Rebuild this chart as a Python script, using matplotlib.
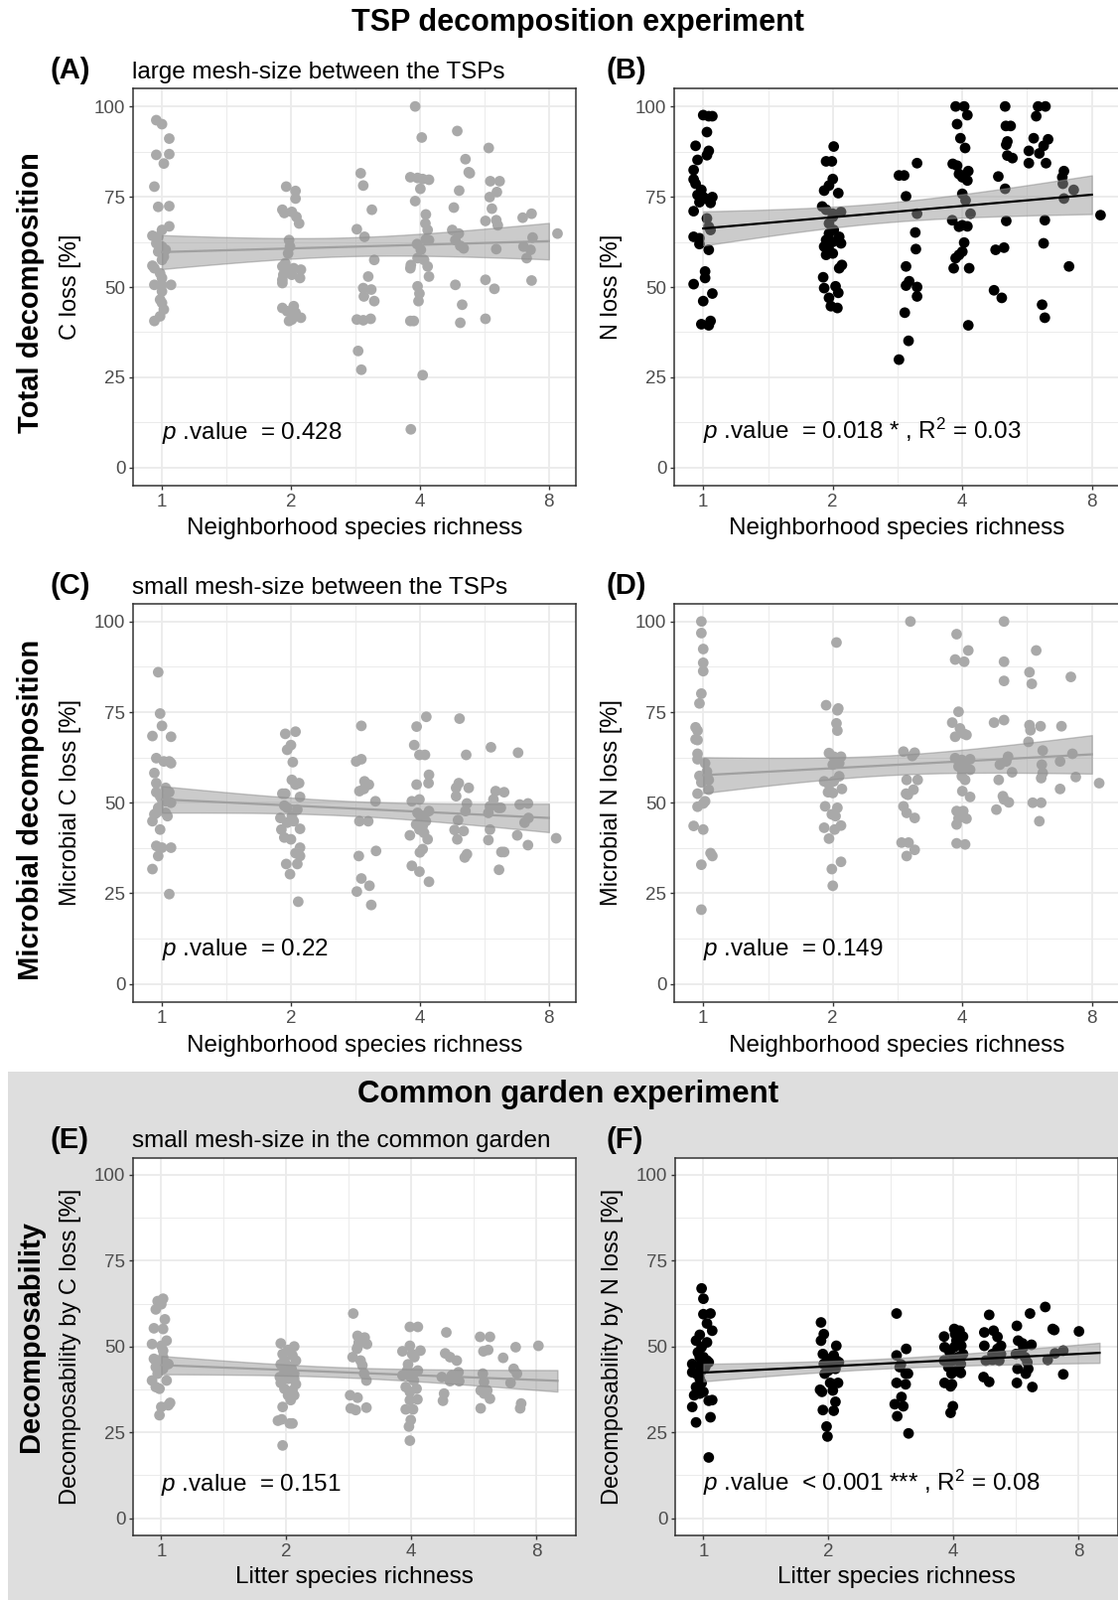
import numpy as np
import matplotlib.pyplot as plt
from matplotlib.patches import Rectangle
from matplotlib.ticker import FixedLocator, FixedFormatter, NullFormatter

plt.rcParams['font.family'] = ['Liberation Sans', 'DejaVu Sans']
plt.rcParams['mathtext.fontset'] = 'custom'
plt.rcParams['mathtext.rm'] = 'Liberation Sans'
plt.rcParams['mathtext.it'] = 'Liberation Sans:italic'

# ---- data (jittered richness, loss in %) ----
a_rich = [
    0.97, 1.00, 1.04, 0.97, 1.04, 1.01, 0.96, 0.98, 1.04, 1.04, 1.00, 0.95, 0.98, 0.97, 1.00, 1.01,
    1.00, 0.95, 0.96, 0.99, 1.00, 0.96, 1.00, 1.05, 1.00, 0.99, 1.00, 1.01, 0.99, 0.96, 1.02, 0.98,
    1.95, 2.05, 2.05, 1.91, 1.93, 2.01, 2.06, 2.09, 1.98, 1.99, 1.97, 1.94, 1.91, 2.03, 2.11, 1.92,
    2.01, 1.91, 2.10, 1.91, 1.91, 1.96, 2.03, 2.05, 1.98, 2.01, 2.11, 1.94,
    2.91, 2.95, 3.09, 2.85, 2.97, 3.13, 3.03, 2.95, 3.08, 2.96, 3.13, 2.85, 2.95, 3.07, 2.87, 2.92,
    3.90, 4.04, 3.80, 3.95, 4.06, 4.20, 4.01, 3.90, 4.13, 4.12, 4.17, 3.94, 4.13, 4.20, 4.02, 3.95,
    4.09, 3.81, 3.80, 4.17, 4.20, 3.95, 3.99, 3.97, 3.80, 3.87, 4.06, 3.81,
    4.89, 5.11, 5.20, 5.23, 4.94, 4.80, 4.76, 4.93, 4.84, 4.97, 5.06, 4.84, 5.02, 4.97,
    5.79, 5.84, 6.14, 6.05, 5.82, 5.89, 5.69, 6.03, 6.08, 6.03, 5.69, 5.97, 5.69,
    6.95, 7.29, 7.33, 6.98, 7.25, 7.10, 7.29,
    8.38]
a_closs = [
    96.2, 95.1, 91.1, 86.6, 86.8, 84.2, 77.8, 72.2, 72.4, 66.8, 65.8, 64.2, 63.9, 62.1, 61.2, 58.4,
    57.5, 55.9, 55.2, 53.8, 52.5, 50.6, 50.6, 50.6, 48.8, 46.5, 45.6, 43.8, 41.9, 40.6, 60.3, 59.8,
    77.8, 76.6, 74.5, 71.4, 70.5, 70.8, 69.4, 67.6, 63.0, 61.2, 59.3, 56.6, 55.7, 55.2, 54.8, 53.4,
    53.4, 52.0, 52.5, 51.1, 44.2, 43.3, 44.7, 42.9, 40.6, 41.0, 41.5, 54.8,
    81.5, 78.1, 71.4, 66.0, 63.9, 57.5, 52.9, 49.7, 49.3, 47.4, 46.1, 41.0, 40.8, 41.2, 32.3, 27.1,
    100.0, 91.4, 80.4, 80.2, 79.9, 79.7, 77.2, 73.8, 70.1, 67.6, 65.8, 61.9, 63.2, 63.0, 60.3, 58.0,
    57.5, 56.1, 55.2, 55.7, 52.9, 50.2, 48.2, 46.1, 40.6, 40.6, 25.6, 10.6,
    93.2, 85.4, 81.8, 81.5, 76.7, 72.0, 65.8, 64.8, 63.0, 61.4, 60.7, 50.6, 45.1, 40.1,
    88.5, 79.3, 79.3, 76.3, 74.9, 71.7, 68.3, 68.5, 67.1, 60.5, 52.0, 49.5, 41.2,
    69.2, 70.3, 63.7, 61.2, 60.3, 58.0, 51.8,
    64.8]

b_rich = [
    1.00, 1.03, 1.05, 1.02, 1.03, 1.02, 0.96, 0.97, 0.95, 0.95, 0.96, 0.99, 0.97, 1.00, 1.05, 1.01,
    1.04, 0.95, 0.98, 1.02, 1.03, 1.04, 0.95, 0.98, 0.98, 1.03, 1.01, 1.01, 0.95, 1.05, 1.00, 0.99,
    1.04, 1.03, 0.99,
    2.01, 1.93, 1.99, 2.00, 1.91, 2.06, 1.96, 1.89, 1.93, 2.09, 2.00, 1.96, 2.01, 2.07, 1.93, 2.00,
    2.09, 1.91, 1.96, 2.00, 1.93, 2.10, 2.07, 1.90, 1.91, 2.03, 2.06, 1.96, 1.98, 2.05, 2.00, 1.96,
    2.85, 2.93, 3.14, 2.96, 3.14, 3.11, 3.12, 2.96, 3.01, 2.96, 3.14, 3.14, 2.94, 3.00, 2.85,
    3.86, 4.04, 4.11, 3.89, 3.96, 4.06, 3.80, 3.89, 3.93, 4.13, 4.00, 4.11, 4.00, 4.07, 4.18, 3.79,
    3.93, 4.11, 4.04, 4.00, 3.93, 3.86, 3.82, 4.15, 4.13, 4.00,
    5.03, 5.05, 5.18, 5.09, 5.06, 5.09, 5.23, 4.85, 5.03, 5.06, 4.78, 5.00, 4.74, 4.94,
    6.00, 6.24, 5.94, 5.86, 6.18, 6.33, 5.71, 6.04, 5.71, 6.26, 6.22, 6.18, 6.13, 6.22,
    6.89, 6.83, 6.85, 7.26, 6.89, 7.08,
    8.38]
b_nloss = [
    97.6, 97.3, 97.3, 92.9, 87.7, 86.5, 89.1, 85.2, 82.4, 79.8, 78.6, 76.9, 75.5, 74.9, 74.9, 74.5,
    73.3, 71.0, 73.5, 69.0, 66.7, 65.8, 63.9, 63.5, 61.9, 60.3, 54.3, 52.5, 50.8, 48.2, 46.1, 39.7,
    40.6, 39.4, 75.3,
    88.9, 84.8, 84.8, 79.9, 76.7, 76.0, 78.1, 72.3, 71.4, 70.8, 70.3, 67.6, 65.8, 63.9, 63.0, 62.5,
    62.1, 61.2, 60.3, 59.3, 58.9, 56.1, 55.2, 52.7, 49.7, 50.2, 48.4, 47.0, 44.7, 44.2, 69.4, 64.8,
    80.9, 80.9, 84.3, 75.1, 70.3, 65.1, 60.5, 55.7, 51.6, 50.4, 50.0, 47.4, 42.9, 35.1, 29.9,
    100.0, 100.0, 97.6, 95.1, 91.2, 88.5, 84.1, 83.6, 81.3, 82.1, 80.4, 79.5, 75.8, 74.0, 70.3, 68.5,
    66.7, 66.8, 62.3, 59.8, 58.9, 58.0, 55.2, 55.2, 39.4, 67.1,
    100.0, 94.6, 94.6, 90.3, 89.4, 86.4, 85.7, 80.6, 77.2, 68.3, 60.3, 60.9, 49.1, 47.0,
    100.0, 100.0, 97.3, 91.2, 89.1, 90.9, 87.7, 87.0, 84.3, 84.3, 68.5, 62.1, 45.1, 41.5,
    82.1, 80.4, 78.6, 76.9, 74.5, 55.7,
    69.9]

c_rich = [
    0.98, 0.99, 1.00, 0.95, 1.05, 0.97, 1.01, 1.04, 1.05, 0.96, 0.97, 0.97, 1.02, 1.04, 0.99, 1.02,
    1.05, 0.96, 0.97, 0.95, 1.03, 1.02, 0.99, 0.97, 1.00, 1.05, 0.98, 0.95, 1.04, 1.00, 0.98,
    1.94, 2.05, 2.00, 1.96, 2.02, 2.01, 2.09, 2.05, 2.10, 1.91, 1.94, 1.93, 1.96, 2.07, 2.01, 1.96,
    2.03, 2.10, 1.90, 1.93, 2.00, 2.10, 2.05, 2.10, 1.95, 2.07, 1.99, 2.08, 1.89,
    2.92, 2.84, 2.92, 2.97, 3.04, 2.89, 2.96, 3.15, 2.89, 3.03, 2.88, 3.16, 2.92, 3.05, 2.85, 3.08,
    4.14, 3.93, 3.88, 3.99, 4.11, 4.20, 4.19, 3.93, 3.83, 3.99, 4.20, 4.09, 4.02, 3.92, 4.13, 3.99,
    4.09, 3.79, 4.17, 4.06, 4.00, 3.83, 3.99, 4.20, 3.95, 4.06,
    4.95, 5.13, 4.93, 4.86, 4.86, 5.20, 5.15, 5.11, 4.91, 4.82, 5.06, 4.89, 5.15, 5.09,
    5.86, 6.01, 6.29, 5.94, 5.83, 6.18, 5.78, 5.83, 5.78, 6.20, 6.29, 6.12, 6.10,
    6.78, 6.84, 7.15, 7.17, 7.02, 6.75, 7.15,
    8.32]
c_mcloss = [
    86.0, 74.6, 71.2, 68.4, 68.2, 62.3, 61.4, 61.4, 60.9, 58.2, 55.4, 52.9, 54.1, 52.9, 51.8, 50.4,
    50.0, 46.8, 47.2, 44.9, 46.3, 47.2, 42.6, 38.1, 37.6, 37.6, 35.3, 31.7, 24.8, 50.9, 48.6,
    69.0, 69.6, 65.9, 64.6, 61.2, 56.3, 55.4, 55.0, 51.6, 52.5, 52.5, 49.2, 48.6, 48.1, 46.3, 44.5,
    44.9, 42.8, 42.6, 40.4, 39.9, 37.6, 36.1, 35.3, 33.1, 33.1, 30.3, 22.7, 45.8,
    71.2, 61.4, 62.0, 55.9, 55.0, 53.2, 53.8, 50.4, 44.9, 44.9, 35.3, 36.7, 29.1, 27.1, 25.5, 21.8,
    73.7, 71.0, 65.9, 63.2, 63.2, 57.7, 55.4, 55.0, 50.4, 50.9, 47.7, 46.3, 45.8, 44.0, 44.9, 42.6,
    41.7, 41.0, 39.9, 37.2, 36.3, 32.6, 31.0, 28.2, 47.2, 43.6,
    73.2, 63.2, 55.4, 54.1, 51.8, 54.1, 49.8, 47.7, 45.2, 42.5, 42.2, 39.9, 35.8, 34.9,
    65.3, 53.2, 52.9, 50.9, 49.0, 48.6, 47.2, 42.6, 39.7, 36.4, 36.4, 31.5, 48.6,
    63.8, 49.5, 49.8, 45.8, 44.5, 41.0, 38.3,
    40.2]

d_rich = [
    0.99, 0.99, 1.00, 1.00, 1.00, 0.99, 0.98, 0.96, 0.97, 0.96, 0.97, 0.97, 0.97, 1.01, 1.02, 0.98,
    1.00, 1.03, 0.99, 1.03, 0.97, 1.01, 1.00, 0.97, 0.95, 1.00, 1.04, 1.05, 0.99, 0.99, 1.02,
    2.04, 1.93, 2.06, 2.05, 2.04, 2.05, 1.96, 2.01, 2.09, 2.07, 2.00, 1.91, 2.01, 2.10, 1.95, 2.00,
    1.92, 2.05, 1.99, 2.03, 2.09, 2.02, 1.91, 1.96, 2.09, 1.99, 2.00, 2.07, 1.96,
    3.03, 2.92, 3.10, 3.06, 2.97, 3.15, 3.08, 2.96, 2.99, 2.92, 2.97, 3.10, 2.89, 3.00, 3.10, 2.97,
    3.88, 4.13, 3.85, 4.04, 3.92, 3.79, 3.95, 4.09, 4.02, 3.85, 3.85, 3.99, 4.17, 3.92, 4.06, 4.17,
    3.99, 4.06, 4.00, 4.17, 3.88, 4.02, 3.92, 4.09, 3.88, 3.88, 4.06, 3.99,
    5.00, 5.00, 5.00, 4.74, 5.00, 5.11, 4.89, 5.06, 5.22, 4.86, 4.97, 5.00, 5.13, 4.80,
    5.94, 5.73, 5.80, 5.73, 5.76, 6.08, 5.70, 6.15, 6.12, 6.15, 6.10, 5.83, 6.10, 6.04,
    7.15, 6.80, 7.21, 6.75, 6.75, 7.34,
    8.32]
d_mnloss = [
    100.0, 96.8, 92.4, 88.6, 86.3, 80.1, 77.4, 70.8, 69.9, 67.5, 67.3, 63.5, 62.0, 60.9, 58.6, 57.4,
    56.3, 56.3, 55.6, 53.6, 52.5, 50.4, 49.8, 48.9, 43.6, 42.6, 36.1, 35.3, 32.9, 20.5, 57.3,
    94.2, 76.9, 76.0, 75.5, 71.9, 69.9, 63.7, 62.7, 62.7, 60.9, 60.5, 55.9, 55.9, 53.8, 52.9, 52.7,
    49.0, 48.6, 46.8, 46.3, 43.7, 42.6, 43.1, 40.1, 33.7, 31.7, 27.1, 57.3, 55.0,
    100.0, 64.1, 63.8, 62.9, 56.3, 56.3, 53.6, 52.5, 52.2, 49.0, 47.2, 45.8, 39.0, 39.0, 37.0, 35.3,
    96.5, 92.0, 89.5, 88.9, 75.1, 72.1, 70.5, 68.7, 69.1, 68.2, 62.3, 61.8, 62.0, 60.0, 60.5, 59.1,
    57.3, 56.3, 53.2, 51.6, 47.7, 47.7, 45.7, 45.6, 44.0, 38.8, 38.5, 59.1,
    100.0, 88.9, 83.6, 72.1, 72.8, 62.7, 60.5, 61.4, 58.4, 56.3, 51.8, 50.9, 50.1, 48.1,
    92.0, 86.0, 82.8, 71.4, 70.0, 71.1, 66.8, 64.4, 60.5, 58.2, 56.8, 50.0, 50.0, 44.9,
    84.7, 71.1, 63.5, 61.4, 53.8, 57.1,
    55.4]

e_rich = [
    0.98, 1.01, 0.97, 1.00, 1.02, 0.96, 1.01, 0.95, 1.00, 1.03, 1.01, 0.96, 1.02, 0.97, 1.00, 1.04,
    0.98, 1.01, 0.95, 1.03, 0.97, 0.99, 1.00, 1.05, 1.04, 0.99, 0.97, 1.01,
    1.94, 2.09, 2.02, 1.96, 2.07, 2.11, 1.94, 2.01, 2.06, 1.98, 2.09, 1.93, 2.02, 2.09, 1.94, 2.11,
    1.98, 2.07, 2.02, 2.09, 2.05, 1.96, 1.91, 1.95, 2.04, 2.07, 1.96, 1.98, 2.04,
    2.90, 2.97, 3.09, 2.99, 3.13, 2.96, 2.89, 3.02, 3.05, 3.08, 3.12, 2.97, 2.85, 2.97, 2.86, 2.94, 3.12,
    3.97, 4.15, 3.81, 3.97, 4.21, 4.02, 4.07, 3.93, 4.15, 4.06, 3.81, 3.99, 3.88, 4.12, 3.97, 4.14,
    3.97, 3.88, 4.04, 3.99, 3.95, 3.97, 3.91, 4.06,
    4.86, 4.83, 4.96, 5.15, 4.74, 4.96, 5.20, 5.22, 4.80, 4.77, 5.01,
    5.86, 6.19, 5.97, 6.13, 5.95, 5.99, 5.88, 6.10, 5.99, 6.19, 5.88,
    6.66, 7.14, 7.06, 7.19, 6.94, 7.36, 7.32,
    8.10]
e_dcloss = [
    63.2, 63.9, 60.8, 62.3, 57.9, 55.3, 55.1, 50.7, 50.2, 51.7, 48.8, 46.4, 45.4, 44.0, 44.0, 44.9,
    42.1, 43.5, 40.1, 40.1, 38.2, 37.7, 32.4, 33.6, 32.9, 30.0, 45.9, 46.9,
    50.9, 50.0, 49.0, 47.8, 47.4, 45.9, 44.8, 44.5, 43.5, 42.5, 42.1, 41.1, 40.6, 40.6, 39.4, 39.0,
    37.7, 37.2, 35.8, 35.8, 34.4, 32.4, 28.4, 28.8, 27.6, 27.6, 21.2, 45.9, 42.1,
    59.6, 53.1, 52.6, 51.2, 50.7, 49.3, 46.9, 45.9, 44.5, 42.1, 40.1, 49.8, 35.8, 35.1, 32.0, 31.5, 32.2,
    55.7, 55.7, 48.6, 50.2, 48.8, 47.8, 46.9, 44.8, 43.0, 42.3, 41.6, 41.1, 38.2, 37.7, 36.8, 34.6,
    34.4, 31.7, 31.7, 28.6, 26.7, 22.6, 43.0, 40.1,
    54.1, 48.0, 46.9, 45.9, 41.1, 39.9, 42.5, 39.9, 36.3, 34.2, 41.6,
    52.8, 52.8, 48.6, 49.0, 42.1, 39.7, 37.2, 37.2, 36.3, 34.8, 32.0,
    46.7, 49.8, 43.5, 42.1, 39.4, 33.4, 32.0,
    50.2]

f_rich = [
    0.99, 1.00, 1.00, 1.04, 1.02, 1.05, 0.98, 0.96, 1.02, 0.99, 0.97, 1.00, 1.02, 0.94, 0.98, 1.03,
    0.99, 0.94, 0.96, 0.98, 0.99, 0.96, 0.98, 1.00, 0.95, 1.03, 1.05, 0.94, 1.04, 0.96, 1.03, 1.01, 0.98,
    1.92, 1.95, 1.92, 2.09, 1.94, 2.06, 1.99, 2.12, 1.95, 2.04, 2.08, 1.96, 2.11, 2.02, 1.91, 1.93,
    2.05, 2.08, 1.94, 2.06, 1.98, 1.99, 2.00, 2.09,
    2.92, 2.92, 3.08, 2.99, 3.07, 3.11, 2.92, 3.07, 3.00, 3.03, 2.89, 2.93, 3.12, 2.97,
    3.80, 4.02, 4.14, 4.22, 4.07, 3.81, 4.02, 3.92, 4.22, 4.11, 3.80, 3.99, 4.17, 3.89, 4.07, 4.17,
    3.96, 3.81, 3.97, 3.94, 3.99, 3.94, 4.04, 4.18,
    4.88, 4.75, 5.00, 5.11, 4.75, 5.21, 5.11, 4.97, 5.21, 4.79, 4.97, 5.07, 4.73, 4.88, 5.16,
    5.69, 6.12, 5.73, 5.87, 6.17, 5.66, 5.82, 5.95, 6.03, 5.71, 6.06, 5.98, 5.69, 6.20, 5.90,
    6.66, 6.94, 7.00, 6.75, 7.03, 7.36, 7.36,
    8.03]
f_dnloss = [
    66.9, 63.9, 59.4, 59.6, 56.7, 54.6, 53.4, 51.7, 51.2, 49.8, 48.3, 46.9, 45.9, 44.9, 44.5, 45.4,
    43.0, 42.5, 42.1, 40.6, 39.4, 38.2, 36.3, 36.8, 35.8, 34.2, 34.4, 32.4, 29.4, 27.9, 17.7, 44.0, 46.9,
    57.0, 53.6, 51.7, 50.2, 47.8, 47.4, 46.4, 45.4, 44.9, 44.0, 43.5, 42.1, 39.4, 39.4, 37.4, 36.8,
    37.2, 33.9, 31.5, 31.3, 26.7, 23.8, 43.0, 45.9,
    59.6, 47.4, 49.3, 44.8, 42.1, 42.1, 39.4, 39.0, 35.3, 32.6, 33.2, 29.7, 24.7, 44.0,
    52.9, 55.1, 54.6, 52.9, 51.7, 49.8, 49.8, 48.3, 47.8, 46.9, 45.9, 45.9, 44.9, 44.0, 43.0, 42.3,
    42.1, 39.4, 39.0, 38.4, 32.6, 30.7, 53.6, 50.2,
    59.2, 54.1, 54.6, 52.8, 50.2, 50.2, 49.3, 47.8, 47.8, 45.9, 46.1, 46.9, 41.1, 39.7, 45.9,
    56.0, 59.6, 51.7, 50.9, 50.5, 47.8, 48.0, 46.9, 45.4, 43.5, 43.5, 42.1, 39.4, 38.2, 49.8,
    61.5, 55.1, 54.8, 46.1, 48.0, 48.8, 41.9,
    54.4]

panel_tags = ['(A)', '(B)', '(C)', '(D)', '(E)', '(F)']
y_titles = ['C loss [%]', 'N loss [%]', 'Microbial C loss [%]', 'Microbial N loss [%]',
            'Decomposability by C loss [%]', 'Decomposability by N loss [%]']
x_titles = ['Neighborhood species richness'] * 4 + ['Litter species richness'] * 2
p_texts = [r'$\mathit{p}$ .value  = 0.428',
           r'$\mathit{p}$ .value  = 0.018 * , $\mathrm{R}^2$ = 0.03',
           r'$\mathit{p}$ .value  = 0.22',
           r'$\mathit{p}$ .value  = 0.149',
           r'$\mathit{p}$ .value  = 0.151',
           r'$\mathit{p}$ .value  < 0.001 *** , $\mathrm{R}^2$ = 0.08']
significant = [False, True, False, False, False, True]
fit_xmax = [8, 8, 8, 8, 9, 9]

# ---- layout in pixels ----
W, H = 1126, 1611
fig = plt.figure(figsize=(W / 100, H / 100), dpi=100)
fig.patches.append(Rectangle((8 / W, 0), 1 - 8 / W, 1 - 1079 / H, transform=fig.transFigure,
                             facecolor='#dedede', edgecolor='none', zorder=-5))

boxes = [(134, 580, 89, 489), (679, 1127, 89, 489),
         (134, 580, 607.5, 1009), (679, 1127, 607.5, 1009),
         (134, 580, 1165.5, 1546), (680, 1126, 1165.5, 1546)]
xlims = [(0.856, 9.25)] * 4 + [(0.855, 9.97)] * 2

datasets = [(a_rich, a_closs), (b_rich, b_nloss), (c_rich, c_mcloss),
            (d_rich, d_mnloss), (e_rich, e_dcloss), (f_rich, f_dnloss)]

for i, (xs, ys) in enumerate(datasets):
    l, r, t, b = boxes[i]
    ax = fig.add_axes([l / W, 1 - b / H, (r - l) / W, (b - t) / H])
    ax.set_facecolor('white')
    x = np.array(xs)
    y = np.array(ys)
    pc = 'black' if significant[i] else '#a9a9a9'

    ax.scatter(x, y, s=60, color=pc, edgecolors='none', zorder=3)

    # linear fit on log2 richness with 95% CI
    lev = np.log2(np.round(x))
    slope, icpt = np.polyfit(lev, y, 1)
    n = len(y)
    resid = y - (icpt + slope * lev)
    s = np.sqrt(np.sum(resid ** 2) / (n - 2))
    sxx = np.sum((lev - lev.mean()) ** 2)
    xx = np.linspace(0, np.log2(fit_xmax[i]), 100)
    fit = icpt + slope * xx
    se = s * np.sqrt(1 / n + (xx - lev.mean()) ** 2 / sxx)
    ax.fill_between(2 ** xx, fit - 1.97 * se, fit + 1.97 * se, facecolor='#999999',
                    alpha=0.5, edgecolor='#8a8a8a', lw=1.0, zorder=4)
    ax.plot(2 ** xx, fit, color='black' if significant[i] else '#a0a0a0', lw=1.6, zorder=5)

    ax.set_xscale('log', base=2)
    ax.set_xlim(*xlims[i])
    ax.set_ylim(-5, 105)
    ax.xaxis.set_major_locator(FixedLocator([1, 2, 4, 8]))
    ax.xaxis.set_major_formatter(FixedFormatter(['1', '2', '4', '8']))
    ax.xaxis.set_minor_locator(FixedLocator(np.sqrt(2) * np.array([1, 2, 4])))
    ax.xaxis.set_minor_formatter(NullFormatter())
    ax.yaxis.set_major_locator(FixedLocator([0, 25, 50, 75, 100]))
    ax.yaxis.set_minor_locator(FixedLocator([12.5, 37.5, 62.5, 87.5]))
    ax.set_axisbelow(True)
    ax.grid(which='major', color='#ebebeb', lw=1.3)
    ax.grid(which='minor', color='#ebebeb', lw=0.7)
    ax.tick_params(which='major', length=3, width=1, color='#333333',
                   labelsize=13.5, labelcolor='#4d4d4d', pad=2.5)
    ax.tick_params(which='minor', length=0)
    for sp in ax.spines.values():
        sp.set_color('#333333')
        sp.set_linewidth(1.1)

    ax.set_ylabel(y_titles[i], fontsize=17)
    ax.yaxis.set_label_coords(-0.117, 0.5)
    ax.set_xlabel(x_titles[i], fontsize=17.5)
    ax.xaxis.set_label_coords(0.5, -0.081)

    ax.text(1, 8, p_texts[i], fontsize=17.5, ha='left', va='baseline', zorder=6)

    tag_x = 50 if i % 2 == 0 else 611
    fig.text(tag_x / W, 1 - (t - 10) / H, panel_tags[i], fontsize=21, fontweight='bold',
             ha='left', va='baseline')

# subtitles
fig.text(133 / W, 1 - 79 / H, 'large mesh-size between the TSPs', fontsize=17.5, va='baseline')
fig.text(133 / W, 1 - 597.5 / H, 'small mesh-size between the TSPs', fontsize=17.5, va='baseline')
fig.text(133 / W, 1 - 1155.5 / H, 'small mesh-size in the common garden', fontsize=17.5,
         va='baseline')

# section titles
fig.text(582 / W, 1 - 31 / H, 'TSP decomposition experiment', fontsize=22, fontweight='bold',
         ha='center', va='baseline')
fig.text(572 / W, 1 - 1110 / H, 'Common garden experiment', fontsize=22.5, fontweight='bold',
         ha='center', va='baseline')

# row labels
for label, yc in [('Total decomposition', 295), ('Microbial decomposition', 815),
                  ('Decomposability', 1345)]:
    fig.text(31 / W, 1 - yc / H, label, rotation=90, fontsize=21, fontweight='bold',
             ha='center', va='center')

fig.savefig('out.png', dpi=100)
